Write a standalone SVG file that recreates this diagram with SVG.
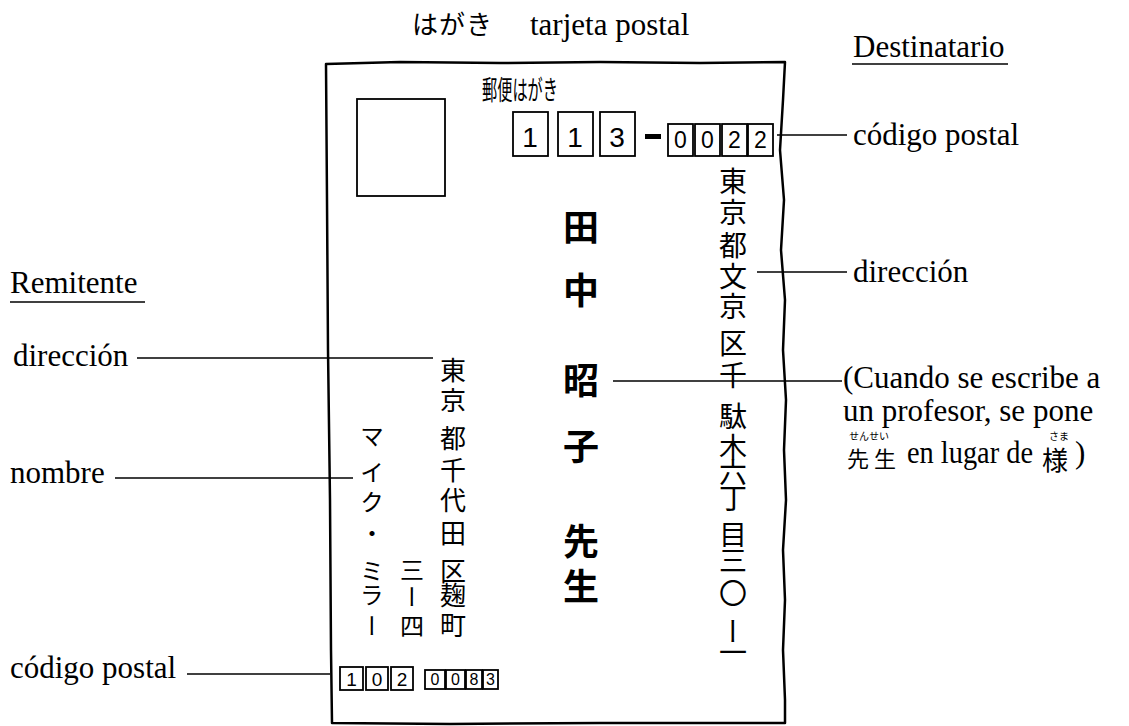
<svg xmlns="http://www.w3.org/2000/svg" width="1129" height="726" viewBox="0 0 1129 726">
<style>
.lbl{font-family:"Liberation Serif","Times New Roman",serif;font-size:31px;fill:#000}
.jp{font-family:"Noto Sans CJK JP",sans-serif;fill:#000}
.vert{writing-mode:vertical-rl}
.dig{font-family:"Liberation Sans",Arial,sans-serif;fill:#000;text-anchor:middle}
.edge{fill:none;stroke:#000;stroke-width:2.5;stroke-linejoin:round}
.box{fill:none;stroke:#000;stroke-width:1.8}
.con{fill:none;stroke:#000;stroke-width:1.5}
.name{font-family:"Noto Sans CJK JP",sans-serif;font-size:36px;font-weight:700;text-anchor:middle;fill:#000}
</style>
<rect width="1129" height="726" fill="#fff"/>

<g id="title">
<text class="jp" x="412" y="34" style="font-size:26px;letter-spacing:1px">はがき</text>
<text class="lbl" x="530" y="35">tarjeta postal</text>
</g>

<g id="card">
<path class="edge" d="M326,64 L400,62 L500,63 L600,62 L700,63 L785,62 L783,100 L780,150 L784,200 L781,250 L785,300 L783,350 L786,400 L784,450 L786,500 L783,550 L785,600 L783,650 L785,700 L785,723 L600,723 L450,724 L332,723 L331,650 L330,500 L328,350 L327,200 Z"/>
<rect class="box" x="357" y="99" width="88" height="97"/>
<text class="jp" x="482" y="100" style="font-size:27px" textLength="76" lengthAdjust="spacingAndGlyphs">郵便はがき</text>
</g>

<g id="dest-postal">
<rect class="box" x="513" y="112" width="35" height="44"/>
<rect class="box" x="558" y="112" width="35" height="44"/>
<rect class="box" x="600" y="112" width="35" height="44"/>
<text class="dig" x="530" y="147" style="font-size:28px">1</text>
<text class="dig" x="575" y="147" style="font-size:28px">1</text>
<text class="dig" x="617" y="147" style="font-size:28px">3</text>
<rect x="645" y="134" width="16" height="5" fill="#000"/>
<rect class="box" x="668" y="124" width="25" height="32"/>
<rect class="box" x="695" y="124" width="25" height="32"/>
<rect class="box" x="722" y="124" width="25" height="32"/>
<rect class="box" x="748" y="124" width="25" height="32"/>
<text class="dig" x="680.5" y="148" style="font-size:23px">0</text>
<text class="dig" x="707.5" y="148" style="font-size:23px">0</text>
<text class="dig" x="734.5" y="148" style="font-size:23px">2</text>
<text class="dig" x="760.5" y="148" style="font-size:23px">2</text>
</g>

<g id="dest-address">
<text class="jp vert" x="733" y="167 198 231 262 292 329 361 402 433 458 484 520 546 579 617 638" style="font-size:28px">東京都文京区千駄木六丁目三〇ー一</text>
</g>

<g id="dest-name">
<text class="name" x="581" y="241">田</text>
<text class="name" x="581" y="304">中</text>
<text class="name" x="581" y="394">昭</text>
<text class="name" x="581" y="460">子</text>
<text class="name" x="581" y="555">先</text>
<text class="name" x="581" y="600">生</text>
</g>

<g id="sender-address">
<text class="jp vert" x="453" y="357 387 425 457 487 520 558 582 612" style="font-size:26px">東京都千代田区麹町</text>
<text class="jp vert" x="412" y="558 585 614" style="font-size:24px">三ー四</text>
</g>

<g id="sender-name">
<text class="jp vert" x="372" y="424 460 490 521 559 583 614" style="font-size:24px">マイク・ミラー</text>
</g>

<g id="sender-postal">
<rect class="box" x="340" y="667" width="23" height="23"/>
<rect class="box" x="366" y="667" width="22" height="23"/>
<rect class="box" x="391" y="667" width="22" height="23"/>
<text class="dig" x="351.5" y="686" style="font-size:19px">1</text>
<text class="dig" x="377" y="686" style="font-size:19px">0</text>
<text class="dig" x="402" y="686" style="font-size:19px">2</text>
<rect class="box" x="425" y="670" width="20" height="19"/>
<rect class="box" x="446" y="670" width="19" height="19"/>
<rect class="box" x="466" y="670" width="16" height="19"/>
<rect class="box" x="483" y="670" width="15" height="19"/>
<text class="dig" x="435" y="685" style="font-size:16px">0</text>
<text class="dig" x="455.5" y="685" style="font-size:16px">0</text>
<text class="dig" x="474" y="685" style="font-size:16px">8</text>
<text class="dig" x="490.5" y="685" style="font-size:16px">3</text>
</g>

<g id="labels-right">
<text class="lbl" x="853" y="57">Destinatario</text>
<line class="con" x1="852" y1="64" x2="1008" y2="64"/>
<text class="lbl" x="853" y="145">código postal</text>
<text class="lbl" x="853" y="282">dirección</text>
<text class="lbl" x="843" y="388">(Cuando se escribe a</text>
<text class="lbl" x="843" y="421">un profesor, se pone</text>
<text class="jp" x="849" y="440" style="font-size:10px">せんせい</text>
<text class="jp" x="847" y="467" style="font-size:22px;letter-spacing:5px">先生</text>
<text class="lbl" x="907" y="463" textLength="126" lengthAdjust="spacingAndGlyphs">en lugar de</text>
<text class="jp" x="1049" y="440" style="font-size:10px">さま</text>
<text class="jp" x="1042" y="470" style="font-size:26px">様</text>
<text class="lbl" x="1075" y="463">)</text>
</g>

<g id="labels-left">
<text class="lbl" x="10" y="293">Remitente</text>
<line class="con" x1="10" y1="302" x2="145" y2="302"/>
<text class="lbl" x="13" y="366">dirección</text>
<text class="lbl" x="10" y="483">nombre</text>
<text class="lbl" x="10" y="678">código postal</text>
</g>

<g id="connectors">
<line class="con" x1="777" y1="135" x2="847" y2="135"/>
<line class="con" x1="757" y1="272" x2="847" y2="272"/>
<line class="con" x1="613" y1="381" x2="842" y2="381"/>
<line class="con" x1="137" y1="358" x2="433" y2="358"/>
<line class="con" x1="115" y1="478" x2="353" y2="478"/>
<line class="con" x1="187" y1="674" x2="330" y2="674"/>
</g>
</svg>
